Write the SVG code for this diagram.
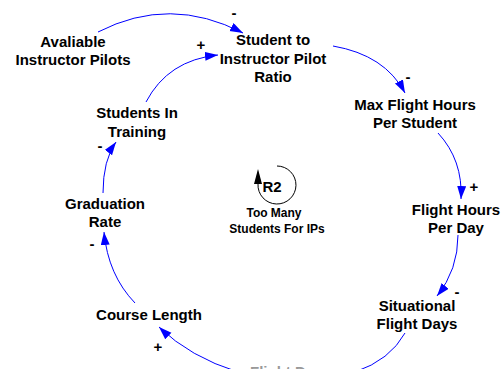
<svg xmlns="http://www.w3.org/2000/svg" width="502" height="369" viewBox="0 0 502 369">
<defs>
<marker id="ah" markerUnits="userSpaceOnUse" markerWidth="14" markerHeight="10" refX="13" refY="4.5" orient="auto">
<path d="M0,0 L13,4.5 L0,9 z" fill="#0000ff"/>
</marker>
<style>
text{font-family:"Liberation Sans",Arial,sans-serif;font-weight:bold;fill:#000;text-anchor:middle}
.n{font-size:15px}
.s{font-size:12px}
.p{font-size:15px}
.c{fill:none;stroke:#0000ff;stroke-width:1}
.a{marker-end:url(#ah)}
</style>
</defs>
<rect width="502" height="369" fill="#fff"/>
<g id="connectors">
<path class="c a" d="M98,32 Q170,-5 243,33"/>
<path class="c a" d="M146,102 Q168,60 218,55"/>
<path class="c a" d="M333,46 Q385,55 405,93"/>
<path class="c a" d="M438,133 Q463,160 461,199"/>
<path class="c a" d="M458,235 Q458,270 437,296"/>
<path class="c" d="M405,333 Q390,360 355,372"/>
<path class="c a" d="M238,372 Q190,357 159,327"/>
<path class="c a" d="M135,303 Q108,275 104,232"/>
<path class="c a" d="M103,193 Q103,160 116,142"/>
<text class="p" x="234" y="18">-</text>
<text class="p" x="201" y="50">+</text>
<text class="p" x="408" y="82">-</text>
<text class="p" x="474" y="192">+</text>
<text class="p" x="457" y="297">-</text>
<text class="p" x="158" y="352">+</text>
<text class="p" x="92" y="249">-</text>
<text class="p" x="100" y="151">-</text>
</g>
<g id="avaliable-instructor-pilots"><text class="n" x="73" y="47">Avaliable</text><text class="n" x="73" y="65">Instructor Pilots</text></g>
<g id="student-ratio"><text class="n" x="273" y="45">Student to</text><text class="n" x="273" y="64">Instructor Pilot</text><text class="n" x="273" y="82">Ratio</text></g>
<g id="max-flight-hours"><text class="n" x="415" y="110">Max Flight Hours</text><text class="n" x="415" y="128">Per Student</text></g>
<g id="flight-hours-per-day"><text class="n" x="456" y="215">Flight Hours</text><text class="n" x="456" y="233">Per Day</text></g>
<g id="situational-flight-days"><text class="n" x="417" y="311">Situational</text><text class="n" x="417" y="329">Flight Days</text></g>
<g id="flight-days-ghost"><text class="n" x="250" y="377" style="text-anchor:start;fill:#999">Flight Days</text></g>
<g id="course-length"><text class="n" x="149" y="320">Course Length</text></g>
<g id="graduation-rate"><text class="n" x="105" y="209">Graduation</text><text class="n" x="105" y="227">Rate</text></g>
<g id="students-in-training"><text class="n" x="137" y="118">Students In</text><text class="n" x="137" y="137">Training</text></g>
<g id="loop-r2">
<path d="M258,184 A19,19 0 1 0 277,166" fill="none" stroke="#000" stroke-width="1"/>
<path d="M254,184 L258,169 L262,184 z" fill="#000"/>
<text x="272" y="192" style="font-size:15px">R2</text>
<text class="s" x="274" y="217">Too Many</text>
<text class="s" x="277" y="233">Students For IPs</text>
</g>
</svg>
